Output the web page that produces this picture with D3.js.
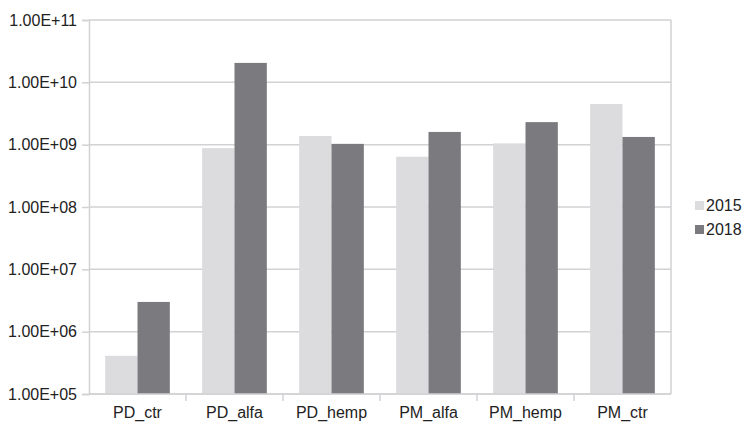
<!DOCTYPE html>
<html>
<head>
<meta charset="utf-8">
<script src="https://cdn.jsdelivr.net/npm/d3@7"></script>
<style>
  body { margin: 0; background: #fff; }
  text { font-family: "Liberation Sans", Arial, sans-serif; fill: #222; }
</style>
</head>
<body>
<div id="chart"></div>
<script>
// data
const categories = ["PD_ctr", "PD_alfa", "PD_hemp", "PM_alfa", "PM_hemp", "PM_ctr"]
const years = ["2015", "2018"]
const values2015 = [4.1e5, 8.8e8, 1.38e9, 6.4e8, 1.05e9, 4.5e9]
const values2018 = [3.0e6, 2.05e10, 1.03e9, 1.6e9, 2.3e9, 1.33e9]
const yTicks = [1e5, 1e6, 1e7, 1e8, 1e9, 1e10, 1e11]

const colors = {"2015": "#dcdcde", "2018": "#7b7b7f"}

const W = 746, H = 423
const margin = {top: 20, right: 75, bottom: 29, left: 89}
const width = W - margin.left - margin.right
const height = H - margin.top - margin.bottom

const svg = d3.select("#chart").append("svg")
    .attr("width", W)
    .attr("height", H)
  .append("g")
    .attr("transform", `translate(${margin.left},${margin.top})`)

const x = d3.scaleBand().domain(categories).range([0, width]).paddingInner(0).paddingOuter(0)
const xInner = d3.scaleBand().domain(years).range([x.bandwidth() / 6, x.bandwidth() * 5 / 6])
const y = d3.scaleLog().domain([1e5, 1e11]).range([height, 0])

// gridlines
svg.append("g")
    .selectAll("line")
    .data(yTicks)
    .join("line")
      .attr("x1", 0).attr("x2", width)
      .attr("y1", d => y(d)).attr("y2", d => y(d))
      .attr("stroke", "#d2d2d4")
      .attr("stroke-width", 1.5)

// right border
svg.append("line")
    .attr("x1", width).attr("x2", width)
    .attr("y1", 0).attr("y2", height)
    .attr("stroke", "#d2d2d4").attr("stroke-width", 1.5)

const rows = categories.map((c, i) => ({cat: c, "2015": values2015[i], "2018": values2018[i]}))

const groups = svg.selectAll(".grp")
    .data(rows)
    .join("g")
      .attr("class", "grp")
      .attr("transform", d => `translate(${x(d.cat)},0)`)

groups.selectAll("rect")
    .data(d => years.map(yr => ({yr, v: d[yr]})))
    .join("rect")
      .attr("x", d => xInner(d.yr))
      .attr("width", xInner.bandwidth())
      .attr("y", d => y(d.v))
      .attr("height", d => height - y(d.v))
      .attr("fill", d => colors[d.yr])

// y axis
const yAxis = d3.axisLeft(y)
    .tickValues(yTicks)
    .tickSize(7)
    .tickPadding(5)
    .tickFormat(d => d.toExponential(2).toUpperCase().replace(/E\+(\d)$/, "E+0$1"))

const yG = svg.append("g").call(yAxis)
yG.select(".domain").attr("stroke", "#d2d2d4").attr("stroke-width", 1.5)
yG.selectAll(".tick line").attr("stroke", "#d2d2d4").attr("stroke-width", 1.5)
yG.selectAll("text").style("font-size", "16px").attr("fill", "#222")

// x axis, ticks between categories
const xG = svg.append("g").attr("transform", `translate(0,${height})`)
xG.append("line")
    .attr("x1", 0).attr("x2", width)
    .attr("stroke", "#d2d2d4").attr("stroke-width", 1.5)
xG.selectAll(".sep")
    .data(categories.slice(1))
    .join("line")
      .attr("class", "sep")
      .attr("x1", d => x(d)).attr("x2", d => x(d))
      .attr("y1", 0).attr("y2", 7)
      .attr("stroke", "#d2d2d4").attr("stroke-width", 1.5)
xG.selectAll(".lbl")
    .data(categories)
    .join("text")
      .attr("class", "lbl")
      .attr("x", d => x(d) + x.bandwidth() / 2)
      .attr("y", 24)
      .attr("text-anchor", "middle")
      .style("font-size", "16px")
      .text(d => d)

// legend
const legend = svg.append("g")
    .attr("transform", `translate(${width + 24},${190})`)
legend.selectAll("g")
    .data(years)
    .join("g")
      .attr("transform", (d, i) => `translate(0,${i * 24})`)
      .call(g => g.append("rect")
        .attr("width", 9).attr("height", 9).attr("y", -9)
        .attr("fill", d => colors[d]))
      .call(g => g.append("text")
        .attr("x", 11).attr("y", 1)
        .style("font-size", "16px")
        .text(d => d))
</script>
</body>
</html>
